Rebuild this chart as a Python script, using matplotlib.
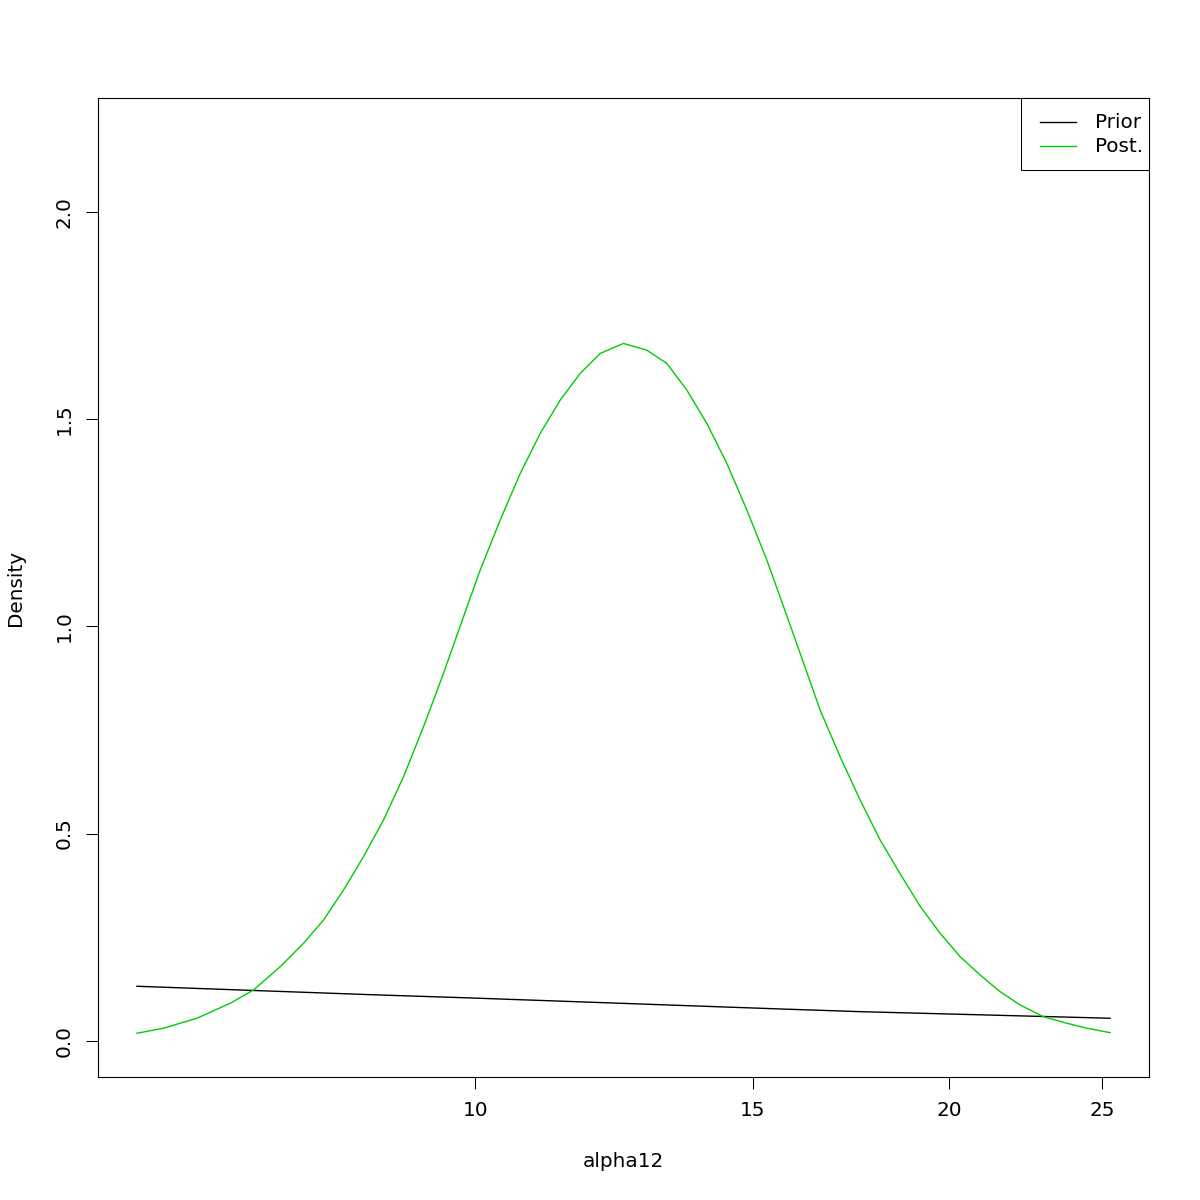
import matplotlib
matplotlib.use("Agg")
import matplotlib.pyplot as plt
from matplotlib.ticker import FixedLocator, NullLocator, FixedFormatter
from matplotlib.patches import Rectangle
from matplotlib.lines import Line2D
import numpy as np

# Data
post_x = [6.095, 6.337, 6.654, 6.987, 7.229, 7.517, 7.777, 8.008, 8.246, 8.490,
          8.742, 9.002, 9.269, 9.544, 9.827, 10.070, 10.369, 10.677, 10.994,
          11.320, 11.656, 12.002, 12.418, 12.850, 13.232, 13.625, 14.029,
          14.446, 14.875, 15.316, 15.847, 16.080, 16.557, 17.049, 17.555,
          18.076, 18.612, 19.165, 19.733, 20.319, 20.922, 21.543, 22.182,
          22.951, 23.750, 24.455, 25.303]
post_y = [0.0181, 0.0302, 0.0543, 0.0905, 0.1226, 0.1788, 0.2352, 0.2914,
          0.3638, 0.4442, 0.5327, 0.6372, 0.7578, 0.8866, 1.0232, 1.1358,
          1.2565, 1.3691, 1.4656, 1.5460, 1.6104, 1.6586, 1.6828, 1.6666,
          1.6345, 1.5701, 1.4897, 1.3932, 1.2806, 1.1600, 1.0030, 0.9350,
          0.7981, 0.6854, 0.5809, 0.4844, 0.4030, 0.3245, 0.2594, 0.2029,
          0.1587, 0.1185, 0.0864, 0.0581, 0.0422, 0.0302, 0.0195]

prior_x = [6.095, 8.570, 9.924, 15.616, 17.555, 25.303]
prior_y = [0.1315, 0.1112, 0.1033, 0.0767, 0.0702, 0.0543]

series_labels = ["Prior", "Post."]
series_colors = ["black", "#00CD00"]

x_ticks = [10, 15, 20, 25]
y_ticks = [0.0, 0.5, 1.0, 1.5, 2.0]
y_tick_labels = ["0.0", "0.5", "1.0", "1.5", "2.0"]

plt.rcParams['font.family'] = ['DejaVu Sans']
FS = 14.4
W = H = 1200.0

fig = plt.figure(figsize=(12, 12), dpi=100)
ax = fig.add_axes([98/W, 123/H, 1051/W, 979/H])

ax.plot(prior_x, prior_y, color=series_colors[0], lw=1.0)
ax.plot(post_x, post_y, color=series_colors[1], lw=1.0)

ax.set_xscale('log')
lx0, lx1 = np.log(min(post_x)), np.log(max(post_x))
dx = (lx1 - lx0) * 0.04
ax.set_xlim(np.exp(lx0 - dx), np.exp(lx1 + dx))
ymax = max(post_y) * 1.3
dy = ymax * 0.04
ax.set_ylim(-dy, ymax + dy)

ax.xaxis.set_major_locator(FixedLocator(x_ticks))
ax.xaxis.set_major_formatter(FixedFormatter([str(t) for t in x_ticks]))
ax.xaxis.set_minor_locator(NullLocator())
ax.yaxis.set_major_locator(FixedLocator(y_ticks))
ax.yaxis.set_major_formatter(FixedFormatter(y_tick_labels))

ax.tick_params(axis='both', direction='out', length=8.6, width=0.75,
               labelsize=FS, color='black')
ax.tick_params(axis='x', pad=9)
ax.tick_params(axis='y', pad=9, labelrotation=90)
for lab in ax.get_yticklabels():
    lab.set_va('center')

for s in ax.spines.values():
    s.set_linewidth(0.8)
    s.set_color('black')

ax.set_xlabel('alpha12', fontsize=FS, labelpad=23)
ax.set_ylabel('Density', fontsize=FS, labelpad=21)

# Legend drawn in R style (box flush with the top-right corner)
fx = lambda px: px / W
fy = lambda py: 1 - py / H
box = Rectangle((fx(1021), fy(170)), fx(1149) - fx(1021), fy(98) - fy(170),
                transform=fig.transFigure, facecolor='white',
                edgecolor='black', linewidth=0.75, zorder=5)
fig.add_artist(box)
for i, (lab, col) in enumerate(zip(series_labels, series_colors)):
    yy = 122 + 24 * i
    fig.add_artist(Line2D([fx(1040), fx(1076)], [fy(yy), fy(yy)],
                          transform=fig.transFigure, color=col, lw=1.0,
                          zorder=6))
    fig.text(fx(1095), fy(yy), lab, fontsize=FS, ha='left', va='center',
             zorder=6)

fig.savefig('out.png', dpi=100, facecolor='white')
